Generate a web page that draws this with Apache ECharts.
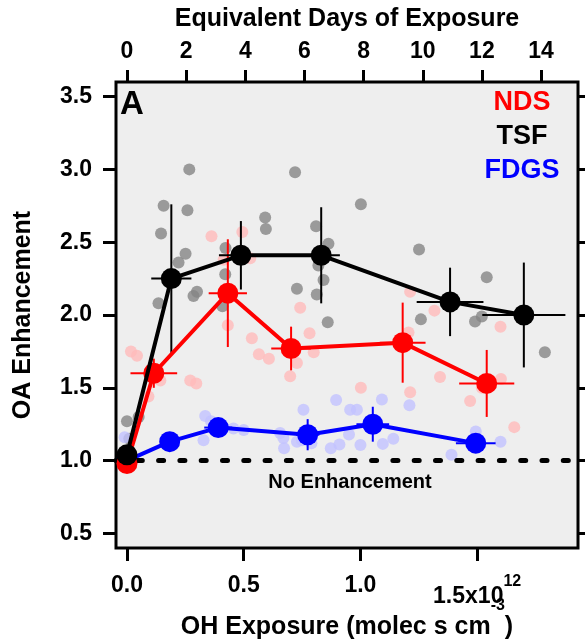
<!DOCTYPE html>
<html>
<head>
<meta charset="utf-8">
<script src="https://cdn.jsdelivr.net/npm/echarts@6/dist/echarts.min.js"></script>
<style>
  html, body { margin: 0; padding: 0; background: #ffffff; }
  #chart { width: 585px; height: 640px; }
</style>
</head>
<body>
<div id="chart"></div>
<script>
// OH exposure in units of 1e12 molec s cm^-3; one equivalent day of exposure
const OH_PER_DAY = 0.1267;

// Axis extents and tick values
const X_MIN = -0.047, X_MAX = 1.932;
const Y_MIN = 0.4, Y_MAX = 3.6;
const X_TICKS = [0, 0.5, 1.0, 1.5];
const DAY_TICKS = [0, 2, 4, 6, 8, 10, 12, 14];
const Y_TICKS = [0.5, 1.0, 1.5, 2.0, 2.5, 3.0, 3.5];
const NO_ENHANCEMENT = 1.0;

// Individual measurements [OH exposure, OA enhancement]
const tsfPoints = [
  [0.0, 1.27], [0.01, 1.15], [0.05, 1.30],
  [0.135, 2.08], [0.146, 2.56], [0.157, 2.75], [0.221, 2.36], [0.251, 2.42],
  [0.259, 2.72], [0.267, 3.00], [0.285, 2.13], [0.30, 2.16],
  [0.409, 2.06], [0.421, 2.28], [0.422, 2.46], [0.592, 2.67], [0.595, 2.59],
  [0.72, 2.98], [0.728, 2.18], [0.81, 2.61], [0.813, 2.14], [0.82, 2.34],
  [0.842, 2.24], [0.86, 1.95], [0.863, 2.49],
  [1.002, 2.76], [1.251, 2.45], [1.259, 1.97], [1.491, 1.955], [1.52, 1.99],
  [1.541, 2.26], [1.79, 1.745]
];
const ndsPoints = [
  [0.017, 1.75], [0.043, 1.72], [0.092, 1.44], [0.143, 1.55], [0.271, 1.55], [0.297, 1.53],
  [0.362, 2.54], [0.414, 2.38], [0.432, 1.93], [0.494, 2.57], [0.528, 2.39], [0.535, 1.84],
  [0.565, 1.73], [0.608, 1.70], [0.699, 1.58], [0.728, 1.67], [0.742, 2.05], [0.782, 1.875],
  [0.80, 1.745], [1.002, 1.50], [1.206, 1.88], [1.213, 2.16], [1.213, 1.47], [1.317, 2.03],
  [1.341, 1.575], [1.47, 1.41], [1.52, 1.50], [1.60, 1.92], [1.602, 1.56], [1.659, 1.23]
];
const fdgsPoints = [
  [-0.01, 1.16], [0.328, 1.14], [0.335, 1.307], [0.36, 1.27], [0.456, 1.22], [0.50, 1.21],
  [0.656, 1.19], [0.67, 1.155], [0.673, 1.085], [0.728, 1.13], [0.75, 1.14], [0.756, 1.35],
  [0.79, 1.12], [0.873, 1.085], [0.91, 1.11], [0.896, 1.417], [0.951, 1.18], [0.956, 1.35],
  [0.985, 1.35], [1.0, 1.108], [1.092, 1.42], [1.096, 1.115], [1.141, 1.15], [1.21, 1.38],
  [1.39, 1.04], [1.494, 1.20], [1.60, 1.13]
];

// Binned means with uncertainties
const tsfX    = [0.0, 0.19, 0.488, 0.832, 1.384, 1.70];
const tsfY    = [1.04, 2.25, 2.41, 2.41, 2.09, 2.00];
const tsfXErr = [0, 0.086, 0.094, 0.08, 0.143, 0.178];
const tsfYErr = [0, 0.51, 0.235, 0.33, 0.235, 0.36];

const ndsX    = [0.0, 0.115, 0.432, 0.703, 1.181, 1.541];
const ndsY    = [0.98, 1.60, 2.15, 1.77, 1.81, 1.53];
const ndsXErr = [0, 0.10, 0.082, 0.085, 0.098, 0.118];
const ndsYErr = [0, 0.10, 0.37, 0.15, 0.275, 0.23];

const fdgsX    = [0.0, 0.183, 0.391, 0.774, 1.053, 1.494];
const fdgsY    = [1.0, 1.13, 1.227, 1.178, 1.25, 1.12];
const fdgsXErr = [0, 0.03, 0.06, 0.05, 0.07, 0.085];
const fdgsYErr = [0, 0.03, 0.04, 0.107, 0.12, 0.03];

const FONT = '"Liberation Sans", Arial, sans-serif';

function zip(xs, ys) { return xs.map((x, i) => [x, ys[i]]); }
function errRows(xs, ys, xe, ye) { return xs.map((x, i) => [x, ys[i], xe[i], ye[i]]); }

function errorBars(name, rows, color, width) {
  return {
    type: 'custom', name: name, z: 3,
    xAxisIndex: 0, yAxisIndex: 0,
    data: rows,
    encode: { x: 0, y: 1 },
    renderItem: function (params, api) {
      const x = api.value(0), y = api.value(1), xe = api.value(2), ye = api.value(3);
      const l = api.coord([x - xe, y]), r = api.coord([x + xe, y]);
      const t = api.coord([x, y + ye]), b = api.coord([x, y - ye]);
      const st = { stroke: color, lineWidth: width };
      return {
        type: 'group',
        children: [
          { type: 'line', shape: { x1: l[0], y1: l[1], x2: r[0], y2: r[1] }, style: st },
          { type: 'line', shape: { x1: t[0], y1: t[1], x2: b[0], y2: b[1] }, style: st }
        ]
      };
    }
  };
}

function pale(name, pts, color) {
  return {
    type: 'scatter', name: name, z: 2,
    data: pts, symbol: 'circle', symbolSize: 12,
    itemStyle: { color: color }, silent: true
  };
}

function means(name, xs, ys, color, z) {
  return {
    type: 'line', name: name, z: z,
    data: zip(xs, ys), symbol: 'circle', symbolSize: 21, showSymbol: true,
    lineStyle: { color: color, width: 4 },
    itemStyle: { color: color },
    animation: false
  };
}

const chart = echarts.init(document.getElementById('chart'), null, { renderer: 'canvas' });

const tickStyle = { color: '#000', width: 3 };
const labelStyle = { color: '#000', fontSize: 23, fontWeight: 'bold', fontFamily: FONT };
const nameStyle = { color: '#000', fontSize: 25, fontWeight: 'bold', fontFamily: FONT };
const hiddenLine = { show: false, onZero: false };

chart.setOption({
  animation: false,
  backgroundColor: '#ffffff',
  grid: {
    left: 116, right: 7, top: 82, bottom: 92,
    outerBoundsMode: 'none', containLabel: false,
    show: true, backgroundColor: '#eeeeee', borderColor: '#000', borderWidth: 3
  },
  xAxis: [
    {
      type: 'value', position: 'bottom', min: X_MIN, max: X_MAX,
      axisLine: hiddenLine, splitLine: { show: false },
      axisTick: { show: true, inside: false, length: 13, lineStyle: tickStyle, customValues: X_TICKS },
      axisLabel: Object.assign({}, labelStyle, {
        margin: 26, customValues: X_TICKS,
        formatter: v => (v === 1.5 ? '{m|1.5x10}{e|12}' : v.toFixed(1)),
        rich: {
          m: { fontSize: 23, fontWeight: 'bold', fontFamily: FONT, color: '#000', lineHeight: 34, verticalAlign: 'bottom' },
          e: { fontSize: 16, fontWeight: 'bold', fontFamily: FONT, color: '#000', verticalAlign: 'top' }
        }
      }),
      name: '{t|OH Exposure (molec s cm}{s|-3}{t|)}',
      nameLocation: 'middle', nameGap: 50, nameMoveOverlap: false,
      nameTextStyle: {
        rich: {
          t: Object.assign({}, nameStyle, { lineHeight: 42, verticalAlign: 'bottom' }),
          s: { fontSize: 16, fontWeight: 'bold', fontFamily: FONT, color: '#000', verticalAlign: 'top' }
        }
      }
    },
    {
      type: 'value', position: 'top', min: X_MIN / OH_PER_DAY, max: X_MAX / OH_PER_DAY,
      axisLine: hiddenLine, splitLine: { show: false },
      axisTick: { show: true, inside: false, length: 12, lineStyle: tickStyle, customValues: DAY_TICKS },
      axisLabel: Object.assign({}, labelStyle, { margin: 19, customValues: DAY_TICKS }),
      name: 'Equivalent Days of Exposure', nameLocation: 'middle', nameGap: 50,
      nameTextStyle: nameStyle
    }
  ],
  yAxis: [
    {
      type: 'value', position: 'left', min: Y_MIN, max: Y_MAX,
      axisLine: hiddenLine, splitLine: { show: false },
      axisTick: { show: true, inside: false, length: 13, lineStyle: tickStyle, customValues: Y_TICKS },
      axisLabel: Object.assign({}, labelStyle, { margin: 24, customValues: Y_TICKS, formatter: v => v.toFixed(1) }),
      name: 'OA Enhancement', nameLocation: 'middle', nameGap: 80,
      nameTextStyle: nameStyle
    },
    {
      type: 'value', position: 'right', min: Y_MIN, max: Y_MAX,
      axisLine: hiddenLine, splitLine: { show: false },
      axisTick: { show: true, inside: false, length: 10, lineStyle: tickStyle, customValues: Y_TICKS },
      axisLabel: { show: false }
    }
  ],
  series: [
    pale('TSF samples', tsfPoints, '#848484'),
    pale('NDS samples', ndsPoints, '#ffbaba'),
    pale('FDGS samples', fdgsPoints, '#c2c2ff'),
    {
      type: 'line', name: 'No Enhancement', data: [], z: 2,
      markLine: {
        silent: true, symbol: 'none', animation: false,
        data: [{ yAxis: NO_ENHANCEMENT }],
        lineStyle: { color: '#000', width: 5, type: [5, 16.3], cap: 'round' },
        label: { show: false }
      }
    },
    errorBars('FDGS error', errRows(fdgsX, fdgsY, fdgsXErr, fdgsYErr), '#0000ff', 2),
    means('FDGS', fdgsX, fdgsY, '#0000ff', 4),
    errorBars('NDS error', errRows(ndsX, ndsY, ndsXErr, ndsYErr), '#ff0000', 2),
    means('NDS', ndsX, ndsY, '#ff0000', 5),
    errorBars('TSF error', errRows(tsfX, tsfY, tsfXErr, tsfYErr), '#000000', 2),
    means('TSF', tsfX, tsfY, '#000000', 6)
  ],
  graphic: [
    { type: 'text', left: 120, top: 88, style: { text: 'A', fill: '#000', font: 'bold 33px ' + FONT } },
    { type: 'text', x: 522, y: 103, style: { text: 'NDS', fill: '#ff0000', font: 'bold 27px ' + FONT, align: 'center', verticalAlign: 'middle' } },
    { type: 'text', x: 522, y: 137, style: { text: 'TSF', fill: '#000000', font: 'bold 27px ' + FONT, align: 'center', verticalAlign: 'middle' } },
    { type: 'text', x: 522, y: 171, style: { text: 'FDGS', fill: '#0000ff', font: 'bold 27px ' + FONT, align: 'center', verticalAlign: 'middle' } },
    { type: 'text', x: 350, y: 482, style: { text: 'No Enhancement', fill: '#000', font: 'bold 20px ' + FONT, align: 'center', verticalAlign: 'middle' } }
  ]
});
</script>
</body>
</html>
